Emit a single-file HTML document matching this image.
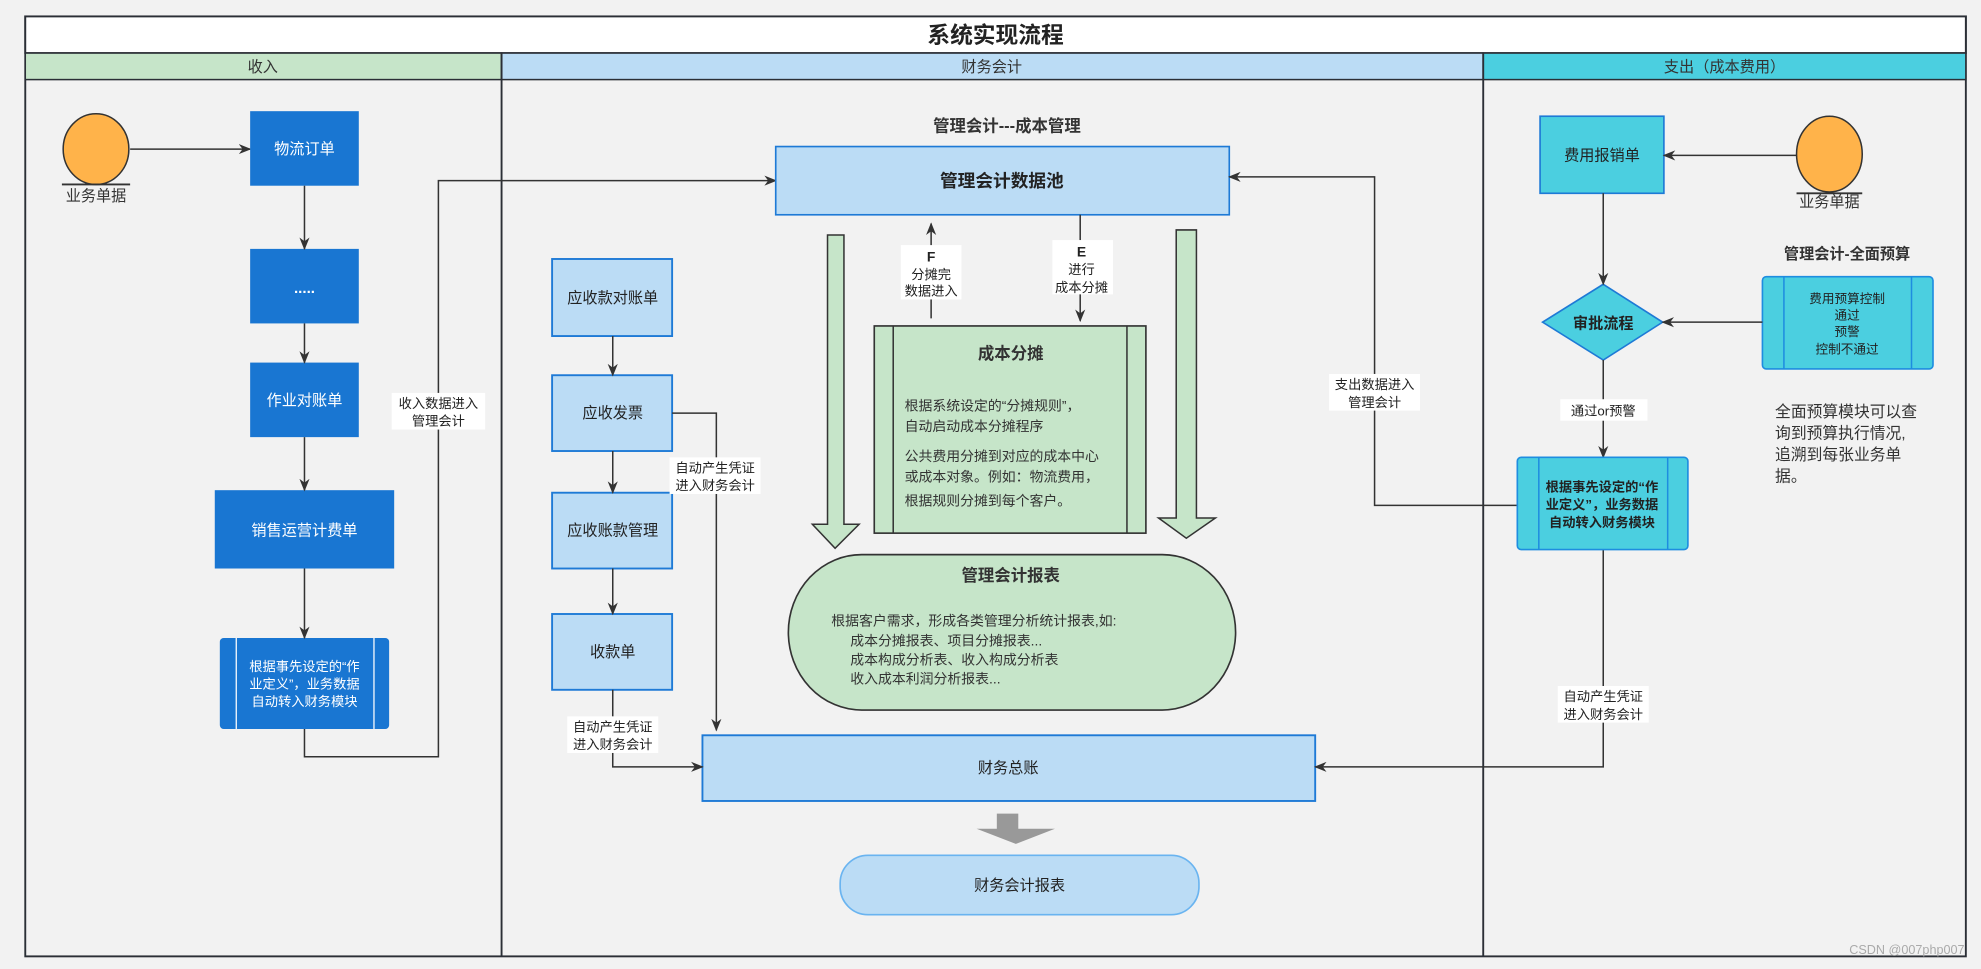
<!DOCTYPE html>
<html><head><meta charset="utf-8"><style>
html,body{margin:0;padding:0;background:#f2f2f2;}
svg{display:block;}
text{font-family:"Liberation Sans","Noto Sans CJK SC",sans-serif;}
</style></head><body>
<svg width="1981" height="969" viewBox="0 0 1568 767" preserveAspectRatio="none" xmlns="http://www.w3.org/2000/svg">
<defs>
<marker id="a" markerWidth="10" markerHeight="10" refX="9" refY="5" orient="auto" markerUnits="userSpaceOnUse"><path d="M0,1 L10,5 L0,9 L3,5 Z" fill="#333"/></marker>
</defs>
<rect x="0" y="0" width="1568" height="767" fill="#f2f2f2"/>
<!-- frame -->
<rect x="20" y="13" width="1536" height="744" fill="#f2f2f2" stroke="#2b2f36" stroke-width="1.5"/>
<rect x="20" y="13" width="1536" height="29" fill="#fff" stroke="#2b2f36" stroke-width="1.5"/>
<text x="788" y="34" font-size="18" font-weight="bold" text-anchor="middle" fill="#222">系统实现流程</text>
<rect x="20" y="42" width="377" height="21" fill="#c6e5c9" stroke="#2b2f36" stroke-width="1.2"/>
<rect x="397" y="42" width="777" height="21" fill="#bbdcf5" stroke="#2b2f36" stroke-width="1.2"/>
<rect x="1174" y="42" width="382" height="21" fill="#4bcfe0" stroke="#2b2f36" stroke-width="1.2"/>
<text x="208" y="57" font-size="12" text-anchor="middle" fill="#333">收入</text>
<text x="785" y="57" font-size="12" text-anchor="middle" fill="#333">财务会计</text>
<text x="1365" y="57" font-size="12" text-anchor="middle" fill="#333">支出（成本费用）</text>
<line x1="397" y1="42" x2="397" y2="757" stroke="#2b2f36" stroke-width="1.5"/>
<line x1="1174" y1="42" x2="1174" y2="757" stroke="#2b2f36" stroke-width="1.5"/>

<!-- left lane -->
<ellipse cx="76" cy="118" rx="26" ry="28" fill="#ffb34a" stroke="#333" stroke-width="1.2"/>
<line x1="49" y1="146" x2="103" y2="146" stroke="#333" stroke-width="1.5"/>
<text x="76" y="159" font-size="12" text-anchor="middle" fill="#333">业务单据</text>
<line x1="103" y1="118" x2="198" y2="118" stroke="#333" stroke-width="1.2" marker-end="url(#a)"/>
<g fill="#1976d2">
<rect x="198" y="88" width="86" height="59"/>
<rect x="198" y="197" width="86" height="59"/>
<rect x="198" y="287" width="86" height="59"/>
<rect x="170" y="388" width="142" height="62"/>
<rect x="174" y="505" width="134" height="72" rx="3"/>
</g>
<line x1="187" y1="505" x2="187" y2="577" stroke="#fff" stroke-width="1"/>
<line x1="296" y1="505" x2="296" y2="577" stroke="#fff" stroke-width="1"/>
<g fill="#fff" font-size="12" text-anchor="middle">
<text x="241" y="122">物流订单</text>
<text x="241" y="232" font-weight="bold">.....</text>
<text x="241" y="321">作业对账单</text>
<text x="241" y="424">销售运营计费单</text>
<text x="241" y="531" font-size="10.5">根据事先设定的“作</text>
<text x="241" y="545" font-size="10.5">业定义”，业务数据</text>
<text x="241" y="559" font-size="10.5">自动转入财务模块</text>
</g>
<g stroke="#333" stroke-width="1.2" fill="none">
<line x1="241" y1="147" x2="241" y2="197" marker-end="url(#a)"/>
<line x1="241" y1="256" x2="241" y2="287" marker-end="url(#a)"/>
<line x1="241" y1="346" x2="241" y2="388" marker-end="url(#a)"/>
<line x1="241" y1="450" x2="241" y2="505" marker-end="url(#a)"/>
<polyline points="241,577 241,599 347,599 347,143 614,143" marker-end="url(#a)"/>
</g>
<rect x="310" y="311" width="74" height="29" fill="#fff"/>
<text x="347" y="323" font-size="10.5" text-anchor="middle" fill="#222">收入数据进入</text>
<text x="347" y="337" font-size="10.5" text-anchor="middle" fill="#222">管理会计</text>

<!-- middle -->
<text x="797" y="104" font-size="13" font-weight="bold" text-anchor="middle" fill="#333">管理会计---成本管理</text>
<rect x="614" y="116" width="359" height="54" fill="#bbdcf5" stroke="#1e7ad6" stroke-width="1.3"/>
<text x="793" y="148" font-size="14" font-weight="bold" text-anchor="middle" fill="#222">管理会计数据池</text>

<path d="M655,186 L668,186 L668,415 L680,415 L661,434 L643,415 L655,415 Z" fill="#c6e5c9" stroke="#333" stroke-width="1.2"/>
<path d="M931,182 L947,182 L947,410 L962,410 L939,426 L917,410 L931,410 Z" fill="#c6e5c9" stroke="#333" stroke-width="1.2"/>

<line x1="737" y1="252" x2="737" y2="177" stroke="#333" stroke-width="1.2" marker-end="url(#a)"/>
<rect x="713" y="194" width="48" height="43" fill="#fff"/>
<text x="737" y="207" font-size="11" font-weight="bold" text-anchor="middle" fill="#222">F</text>
<text x="737" y="221" font-size="10.5" text-anchor="middle" fill="#222">分摊完</text>
<text x="737" y="234" font-size="10.5" text-anchor="middle" fill="#222">数据进入</text>
<line x1="855" y1="170" x2="855" y2="254" stroke="#333" stroke-width="1.2" marker-end="url(#a)"/>
<rect x="833" y="190" width="48" height="43" fill="#fff"/>
<text x="856" y="203" font-size="11" font-weight="bold" text-anchor="middle" fill="#222">E</text>
<text x="856" y="217" font-size="10.5" text-anchor="middle" fill="#222">进行</text>
<text x="856" y="231" font-size="10.5" text-anchor="middle" fill="#222">成本分摊</text>

<rect x="692" y="258" width="215" height="164" fill="#c6e5c9" stroke="#333" stroke-width="1.3"/>
<line x1="707" y1="258" x2="707" y2="422" stroke="#333" stroke-width="1.2"/>
<line x1="892" y1="258" x2="892" y2="422" stroke="#333" stroke-width="1.2"/>
<text x="800" y="284" font-size="13" font-weight="bold" text-anchor="middle" fill="#333">成本分摊</text>
<g font-size="11" fill="#333">
<text x="716" y="325">根据系统设定的“分摊规则”，</text>
<text x="716" y="341">自动启动成本分摊程序</text>
<text x="716" y="365">公共费用分摊到对应的成本中心</text>
<text x="716" y="381">或成本对象。例如：物流费用，</text>
<text x="716" y="400">根据规则分摊到每个客户。</text>
</g>

<rect x="624" y="439" width="354" height="123" rx="58" ry="62" fill="#c6e5c9" stroke="#333" stroke-width="1.3"/>
<text x="800" y="460" font-size="13" font-weight="bold" text-anchor="middle" fill="#333">管理会计报表</text>
<g font-size="11" fill="#333">
<text x="658" y="495">根据客户需求，形成各类管理分析统计报表,如:</text>
<text x="673" y="511">成本分摊报表、项目分摊报表...</text>
<text x="673" y="526">成本构成分析表、收入构成分析表</text>
<text x="673" y="541">收入成本利润分析报表...</text>
</g>

<g fill="#bbdcf5" stroke="#1e7ad6" stroke-width="1.5">
<rect x="437" y="205" width="95" height="61"/>
<rect x="437" y="297" width="95" height="60"/>
<rect x="437" y="390" width="95" height="60"/>
<rect x="437" y="486" width="95" height="60"/>
<rect x="556" y="582" width="485" height="52"/>
</g>
<g font-size="12" text-anchor="middle" fill="#222">
<text x="485" y="240">应收款对账单</text>
<text x="485" y="331">应收发票</text>
<text x="485" y="424">应收账款管理</text>
<text x="485" y="520">收款单</text>
<text x="798" y="612">财务总账</text>
</g>
<g stroke="#333" stroke-width="1.2" fill="none">
<line x1="485" y1="266" x2="485" y2="297" marker-end="url(#a)"/>
<line x1="485" y1="357" x2="485" y2="390" marker-end="url(#a)"/>
<line x1="485" y1="450" x2="485" y2="486" marker-end="url(#a)"/>
<polyline points="532,327 567,327 567,578" marker-end="url(#a)"/>
<polyline points="485,546 485,607 556,607" marker-end="url(#a)"/>
</g>
<rect x="530" y="362" width="72" height="29" fill="#fff"/>
<text x="566" y="374" font-size="10.5" text-anchor="middle" fill="#222">自动产生凭证</text>
<text x="566" y="388" font-size="10.5" text-anchor="middle" fill="#222">进入财务会计</text>
<rect x="449" y="567" width="72" height="29" fill="#fff"/>
<text x="485" y="579" font-size="10.5" text-anchor="middle" fill="#222">自动产生凭证</text>
<text x="485" y="593" font-size="10.5" text-anchor="middle" fill="#222">进入财务会计</text>

<path d="M789,644 L806,644 L806,656 L835,656 L804,668 L773,656 L789,656 Z" fill="#999"/>
<rect x="665" y="677" width="284" height="47" rx="22" fill="#bbdcf5" stroke="#6ab4f0" stroke-width="1.3"/>
<text x="807" y="705" font-size="12" text-anchor="middle" fill="#222">财务会计报表</text>

<!-- right lane -->
<rect x="1219" y="92" width="98" height="61" fill="#4bcfe0" stroke="#1e7ad6" stroke-width="1.3"/>
<text x="1268" y="127" font-size="12" text-anchor="middle" fill="#222">费用报销单</text>
<ellipse cx="1448" cy="122" rx="26" ry="30" fill="#ffb34a" stroke="#333" stroke-width="1.2"/>
<line x1="1422" y1="153" x2="1474" y2="153" stroke="#333" stroke-width="1.5"/>
<text x="1448" y="164" font-size="12" text-anchor="middle" fill="#333">业务单据</text>
<line x1="1422" y1="123" x2="1317" y2="123" stroke="#333" stroke-width="1.2" marker-end="url(#a)"/>
<text x="1462" y="205" font-size="12" font-weight="bold" text-anchor="middle" fill="#333">管理会计-全面预算</text>
<rect x="1395" y="219" width="135" height="73" rx="3" fill="#4bcfe0" stroke="#1e8de0" stroke-width="1.3"/>
<line x1="1412" y1="219" x2="1412" y2="292" stroke="#1e8de0" stroke-width="1.2"/>
<line x1="1513" y1="219" x2="1513" y2="292" stroke="#1e8de0" stroke-width="1.2"/>
<g font-size="10" text-anchor="middle" fill="#222">
<text x="1462" y="240">费用预算控制</text>
<text x="1462" y="253">通过</text>
<text x="1462" y="266">预警</text>
<text x="1462" y="280">控制不通过</text>
</g>
<polygon points="1269,225 1316,255 1269,285 1221,255" fill="#4bcfe0" stroke="#1e7ad6" stroke-width="1.3"/>
<text x="1269" y="260" font-size="12" font-weight="bold" text-anchor="middle" fill="#222">审批流程</text>
<g stroke="#333" stroke-width="1.2" fill="none">
<line x1="1269" y1="153" x2="1269" y2="225" marker-end="url(#a)"/>
<line x1="1395" y1="255" x2="1316" y2="255" marker-end="url(#a)"/>
<line x1="1269" y1="285" x2="1269" y2="362" marker-end="url(#a)"/>
<polyline points="1201,400 1088,400 1088,140 973,140" marker-end="url(#a)"/>
<polyline points="1269,435 1269,607 1041,607" marker-end="url(#a)"/>
</g>
<rect x="1235" y="316" width="69" height="17" fill="#fff"/>
<text x="1269" y="329" font-size="10.5" text-anchor="middle" fill="#222">通过or预警</text>
<rect x="1201" y="362" width="135" height="73" rx="3" fill="#4bcfe0" stroke="#1e8de0" stroke-width="1.3"/>
<line x1="1218" y1="362" x2="1218" y2="435" stroke="#1e8de0" stroke-width="1.2"/>
<line x1="1320" y1="362" x2="1320" y2="435" stroke="#1e8de0" stroke-width="1.2"/>
<g font-size="10.5" text-anchor="middle" fill="#222" font-weight="bold">
<text x="1268" y="389">根据事先设定的“作</text>
<text x="1268" y="403">业定义”，业务数据</text>
<text x="1268" y="417">自动转入财务模块</text>
</g>
<rect x="1052" y="296" width="72" height="29" fill="#fff"/>
<text x="1088" y="308" font-size="10.5" text-anchor="middle" fill="#222">支出数据进入</text>
<text x="1088" y="322" font-size="10.5" text-anchor="middle" fill="#222">管理会计</text>
<rect x="1233" y="543" width="72" height="29" fill="#fff"/>
<text x="1269" y="555" font-size="10.5" text-anchor="middle" fill="#222">自动产生凭证</text>
<text x="1269" y="569" font-size="10.5" text-anchor="middle" fill="#222">进入财务会计</text>
<g font-size="12.5" fill="#333">
<text x="1405" y="330">全面预算模块可以查</text>
<text x="1405" y="347">询到预算执行情况,</text>
<text x="1405" y="364">追溯到每张业务单</text>
<text x="1405" y="381">据。</text>
</g>
<text x="1555" y="755" font-size="10" text-anchor="end" fill="#aaa">CSDN @007php007</text>
</svg>
</body></html>
